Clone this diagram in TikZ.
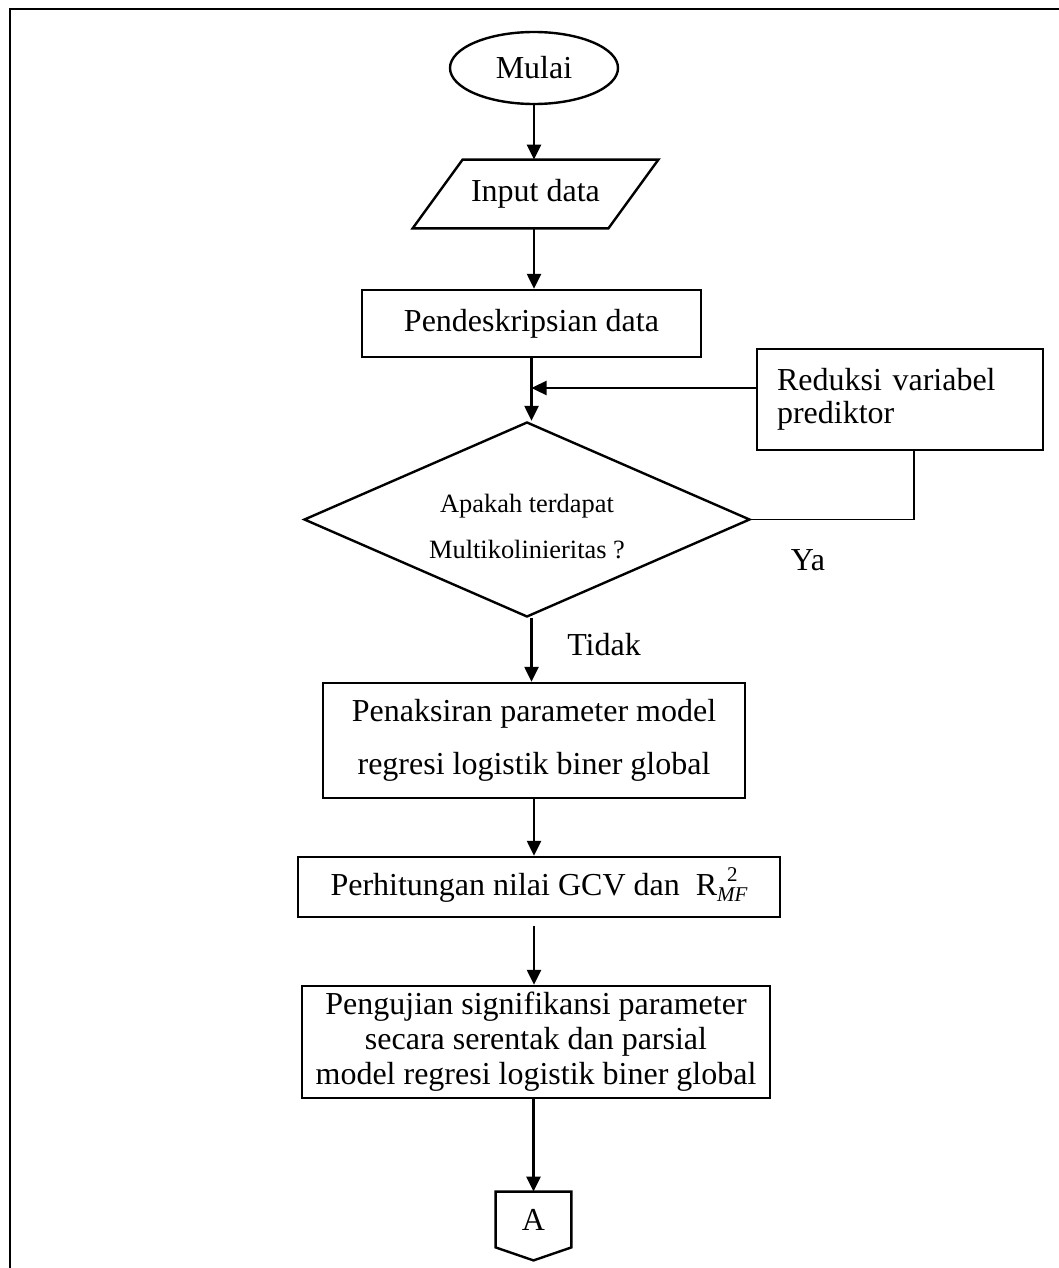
\documentclass[tikz,border=0pt]{standalone}
\usepackage{fontspec}
\setmainfont{Liberation Serif}
\usetikzlibrary{shapes.geometric,arrows.meta}
\begin{document}
\begin{tikzpicture}[x=0.5pt,y=-0.5pt,
 every node/.style={font=\fontsize{16}{18}\selectfont},
 box/.style={draw,line width=1.2pt,rectangle,inner sep=0pt,align=center},
 thinbox/.style={draw,line width=0.6pt,rectangle,inner sep=0pt},
 arr/.style={line width=1.2pt,-{Triangle[length=7.5pt,width=7pt]}},
 thinline/.style={line width=0.6pt},
 frameline/.style={line width=1.4pt},
 ]
\useasboundingbox (0,0) rectangle (1059,1268);
\draw[frameline] (10,1268) -- (10,9) -- (1059,9);

% nodes
\node[draw,ellipse,line width=1.2pt,inner sep=0pt,minimum width=84pt,minimum height=36pt] (mulai) at (534,68) {Mulai};
\node[inner sep=0pt,minimum width=122.5pt,minimum height=34pt] (inp) at (535.5,194) {Input data};
\draw[line width=1.2pt] ([xshift=25pt]inp.north west) -- (inp.north east) -- ([xshift=-25pt]inp.south east) -- (inp.south west) -- cycle;
\node[box,minimum width=169.5pt,minimum height=33.5pt] (pend) at (531.5,323.5) {Pendeskripsian data};
\node[thinbox,align=left,text width=123pt,inner xsep=10pt,minimum height=50.5pt,font=\fontsize{16}{16.5}\selectfont] (red) at (900,399.5) {Reduksi variabel\\prediktor};
\node[draw,diamond,line width=1.2pt,inner sep=0pt,aspect=2.287,minimum width=223pt,minimum height=97.5pt] (dia) at (527,519.5) {};
\node[align=center,font=\fontsize{13.2}{23}\selectfont] (diatext) at (527,527) {Apakah terdapat\\Multikolinieritas ?};
\node (ya) at (808,560) {Ya};
\node (tidak) at (604,645) {Tidak};
\node[box,minimum width=211pt,minimum height=57.5pt,font=\fontsize{16}{26.5}\selectfont] (pen) at (534,740.5) {Penaksiran parameter model\\regresi logistik biner global};
\node[box,minimum width=241pt,minimum height=30pt] (gcv) at (539,887) {Perhitungan nilai GCV dan\ \ R\raisebox{-0.35ex}{\fontsize{10.5}{10}\selectfont\begin{tabular}[b]{@{}c@{}}2\\\itshape MF\end{tabular}}};
\node[box,minimum width=234pt,minimum height=56pt,font=\fontsize{16}{17.5}\selectfont] (peng) at (536,1042) {Pengujian signifikansi parameter\\secara serentak dan parsial\\model regresi logistik biner global};
\node[inner sep=0pt,minimum width=37.5pt,minimum height=27.5pt] (conA) at (533.5,1219.5) {A};
\draw[line width=1.2pt] (conA.north west) -- (conA.north east) -- (conA.south east) -- ([yshift=-6.5pt]conA.south) -- (conA.south west) -- cycle;

% connectors
\coordinate (j) at (531.5,388);
\draw[arr] (mulai.south) -- (mulai.south |- inp.north);
\draw[arr] (inp.south -| mulai.south) -- (mulai.south |- pend.north);
\draw[arr] (pend.south) -- (pend.south |- dia.north);
\draw[arr] (red.west |- j) -- (j);
\draw[thinline] (dia.east) -| ([xshift=7pt]red.south);
\draw[arr] (pend.south |- dia.south) -- (pend.south |- pen.north);
\draw[arr] (pen.south) -- (pen.south |- gcv.north);
\draw[arr] ([yshift=-4pt]pen.south |- gcv.south) -- (pen.south |- peng.north);
\draw[arr] (conA.north |- peng.south) -- (conA.north);
\end{tikzpicture}
\end{document}
